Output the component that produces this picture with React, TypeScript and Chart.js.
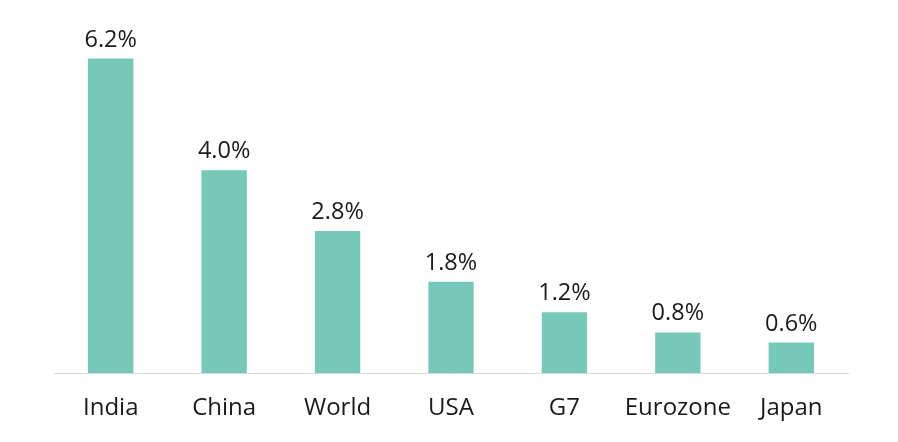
import React, { useEffect, useRef } from "react";
import { Chart, registerables } from "chart.js";

Chart.register(...registerables);

const categories = ["India", "China", "World", "USA", "G7", "Eurozone", "Japan"];
const growth = [6.2, 4.0, 2.8, 1.8, 1.2, 0.8, 0.6];
const valueLabels = ["6.2%", "4.0%", "2.8%", "1.8%", "1.2%", "0.8%", "0.6%"];

const FONT = "'Open Sans', sans-serif";

const labelPlugin = {
  id: "barLabels",
  afterDatasetsDraw(chart: any) {
    const { ctx } = chart;
    const meta = chart.getDatasetMeta(0);
    ctx.save();
    ctx.font = `23.5px ${FONT}`;
    ctx.fillStyle = "#1a1a1a";
    ctx.textAlign = "center";
    ctx.textBaseline = "bottom";
    meta.data.forEach((bar: any, i: number) => {
      ctx.fillText(valueLabels[i], bar.x, bar.y - 7);
    });
    ctx.restore();
  },
};

export default function App() {
  const ref = useRef<HTMLCanvasElement>(null);
  useEffect(() => {
    if (!ref.current) return;
    const chart = new Chart(ref.current, {
      type: "bar",
      data: {
        labels: categories,
        datasets: [
          {
            data: growth,
            backgroundColor: "#76C8B9",
            barPercentage: 0.4,
            categoryPercentage: 1,
          },
        ],
      },
      options: {
        animation: false,
        responsive: false,
        maintainAspectRatio: false,
        layout: { padding: { left: 54, right: 50, top: 18, bottom: 0 } },
        plugins: { legend: { display: false }, tooltip: { enabled: false } },
        scales: {
          y: { display: false, min: 0, max: 7 },
          x: {
            grid: { display: false, drawTicks: false },
            border: { display: true, color: "#d9d9d9", width: 1 },
            ticks: {
              color: "#1a1a1a",
              font: { family: FONT, size: 24 },
              padding: 21,
              maxRotation: 0,
              autoSkip: false,
            },
            afterFit(scale: any) {
              scale.height = 69;
            },
          },
        },
      },
      plugins: [labelPlugin],
    });
    return () => chart.destroy();
  }, []);
  return (
    <div style={{ position: "fixed", left: 0, top: 0, width: 898, height: 442, background: "#fff" }}>
      <canvas ref={ref} width={898} height={442} />
    </div>
  );
}
